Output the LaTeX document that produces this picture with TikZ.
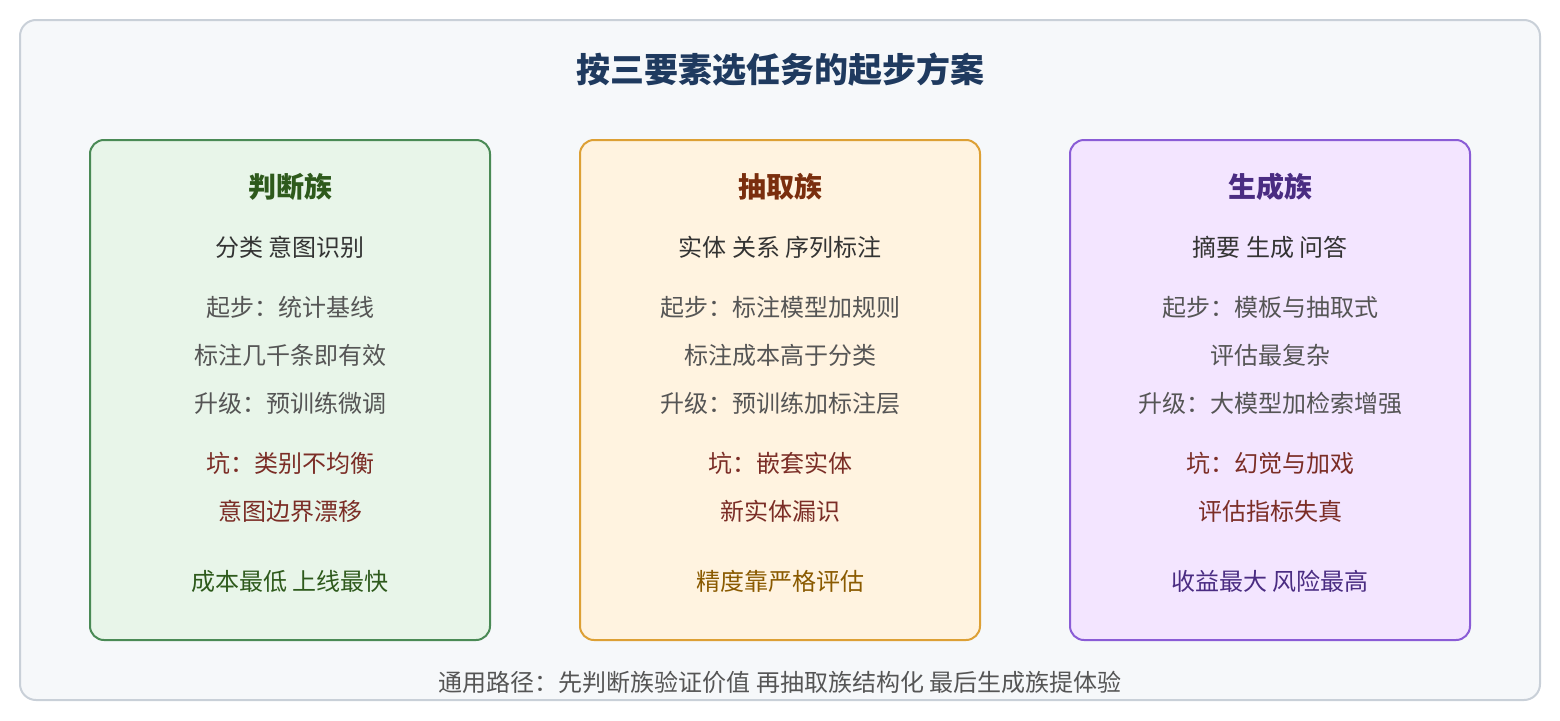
\documentclass[tikz,border=0pt]{standalone}
\usepackage{fontspec}
\setmainfont{Noto Sans CJK SC}
\usepackage{tikz}
\definecolor{navy}{HTML}{1F3A5F}
\definecolor{bgfill}{HTML}{F6F8FA}
\definecolor{bgline}{HTML}{C9D0D8}
\definecolor{txtdark}{HTML}{333333}
\definecolor{txtgray}{HTML}{555555}
\definecolor{pit}{HTML}{7B2D26}
\definecolor{jfill}{HTML}{E8F5E9}
\definecolor{jline}{HTML}{4A8A55}
\definecolor{jtext}{HTML}{2E5A1C}
\definecolor{efill}{HTML}{FFF3E0}
\definecolor{eline}{HTML}{DDA035}
\definecolor{etitle}{HTML}{7A2E0E}
\definecolor{etext}{HTML}{8A5A00}
\definecolor{gfill}{HTML}{F3E5FF}
\definecolor{gline}{HTML}{8A5CD6}
\definecolor{gtext}{HTML}{4A2C82}

\begin{document}
\begin{tikzpicture}[x=1pt, y=-1pt, every node/.append style={inner sep=0pt, anchor=center},
  big/.style={font=\fontsize{34}{34}\selectfont\bfseries, text=navy},
  head/.style={font=\fontsize{28}{28}\selectfont\bfseries},
  line/.style={font=\fontsize{24}{24}\selectfont}]
  \useasboundingbox (0,0) rectangle (1560,720);
  \draw[line width=2pt, bgline, fill=bgfill, rounded corners=16pt] (20,20) rectangle (1540,700);
  \node[big] (T) at (780,70) {按三要素选任务的起步方案};
  % three families
  \draw[line width=2pt, jline, fill=jfill, rounded corners=14pt] (90,140) rectangle (490,640);
  \draw[line width=2pt, eline, fill=efill, rounded corners=14pt] (580,140) rectangle (980,640);
  \draw[line width=2pt, gline, fill=gfill, rounded corners=14pt] (1070,140) rectangle (1470,640);
  \node[head, text=jtext] (J0) at (290,187) {判断族};
  \node[line, text=txtdark] (J1) at (290,247) {分类 意图识别};
  \node[line, text=txtgray] (J2) at (290,307) {起步：统计基线};
  \node[line, text=txtgray] (J3) at (290,355) {标注几千条即有效};
  \node[line, text=txtgray] (J4) at (290,403) {升级：预训练微调};
  \node[line, text=pit] (J5) at (290,463) {坑：类别不均衡};
  \node[line, text=pit] (J6) at (290,511) {意图边界漂移};
  \node[line, text=jtext] (J7) at (290,581) {成本最低 上线最快};
  \node[head, text=etitle] (E0) at (780,187) {抽取族};
  \node[line, text=txtdark] (E1) at (780,247) {实体 关系 序列标注};
  \node[line, text=txtgray] (E2) at (780,307) {起步：标注模型加规则};
  \node[line, text=txtgray] (E3) at (780,355) {标注成本高于分类};
  \node[line, text=txtgray] (E4) at (780,403) {升级：预训练加标注层};
  \node[line, text=pit] (E5) at (780,463) {坑：嵌套实体};
  \node[line, text=pit] (E6) at (780,511) {新实体漏识};
  \node[line, text=etext] (E7) at (780,581) {精度靠严格评估};
  \node[head, text=gtext] (G0) at (1270,187) {生成族};
  \node[line, text=txtdark] (G1) at (1270,247) {摘要 生成 问答};
  \node[line, text=txtgray] (G2) at (1270,307) {起步：模板与抽取式};
  \node[line, text=txtgray] (G3) at (1270,355) {评估最复杂};
  \node[line, text=txtgray] (G4) at (1270,403) {升级：大模型加检索增强};
  \node[line, text=pit] (G5) at (1270,463) {坑：幻觉与加戏};
  \node[line, text=pit] (G6) at (1270,511) {评估指标失真};
  \node[line, text=gtext] (G7) at (1270,581) {收益最大 风险最高};
  \node[line, text=txtgray] (F) at (780,682) {通用路径：先判断族验证价值 再抽取族结构化 最后生成族提体验};
\end{tikzpicture}
\end{document}
